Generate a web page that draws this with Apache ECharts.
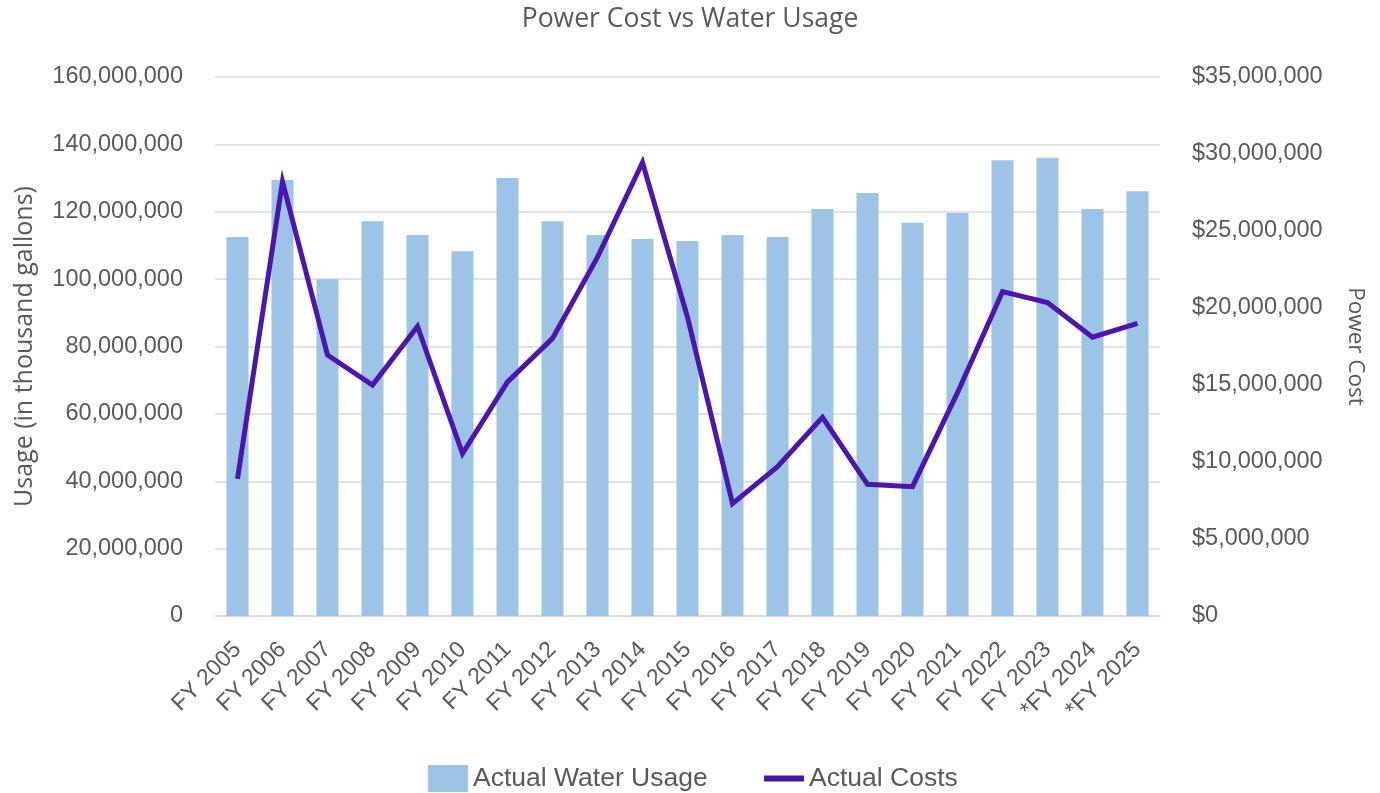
<!DOCTYPE html>
<html>
<head>
<meta charset="utf-8">
<script src="https://cdn.jsdelivr.net/npm/echarts@6/dist/echarts.min.js"></script>
<style>html,body{margin:0;padding:0;background:#fff}#c{width:1380px;height:793px}</style>
</head>
<body>
<div id="c"></div>
<script>
const categories = ["FY 2005","FY 2006","FY 2007","FY 2008","FY 2009","FY 2010","FY 2011","FY 2012","FY 2013","FY 2014","FY 2015","FY 2016","FY 2017","FY 2018","FY 2019","FY 2020","FY 2021","FY 2022","FY 2023","*FY 2024","*FY 2025"];
const waterUsage = [112500000,129400000,100000000,117200000,113100000,108300000,130000000,117200000,113100000,111900000,111300000,113100000,112500000,120800000,125600000,116700000,119600000,135300000,136000000,120800000,126100000];
const powerCost = [8900000,28200000,16950000,15000000,18800000,10550000,15200000,18030000,23300000,29450000,19400000,7300000,9700000,12900000,8550000,8400000,14500000,21060000,20350000,18100000,19000000];

const fmt = v => Math.round(v).toString().replace(/\B(?=(\d{3})+(?!\d))/g, ",");
const txt = '#595959';
const font = 'Liberation Sans';
const font2 = 'Open Sans';

const chart = echarts.init(document.getElementById('c'));
chart.setOption({
  backgroundColor: '#fff',
  animation: false,
  textStyle: { fontFamily: font },
  title: {
    text: 'Power Cost vs Water Usage',
    left: 'center', top: 1,
    textStyle: { fontFamily: font2, fontSize: 26.5, fontWeight: 'normal', color: txt }
  },
  legend: [
    {
      left: 423, top: 760,
      itemWidth: 40, itemHeight: 27, itemGap: 10,
      textStyle: { fontFamily: font, fontSize: 26.5, color: txt, lineHeight: 27 },
      data: [{ name: 'Actual Water Usage', icon: 'rect' }]
    },
    {
      left: 759, top: 760,
      itemWidth: 40, itemHeight: 6, itemGap: 10,
      textStyle: { fontFamily: font, fontSize: 26.5, color: txt, lineHeight: 27 },
      data: [{ name: 'Actual Costs', icon: 'rect' }]
    }
  ],
  grid: { left: 215, right: 220, top: 77, bottom: 177 },
  xAxis: {
    type: 'category',
    data: categories,
    axisLine: { lineStyle: { color: '#d9d9d9', width: 1.5 } },
    axisTick: { show: false },
    axisLabel: { rotate: 45, fontSize: 23, color: txt, fontFamily: font, interval: 0, margin: 30 }
  },
  yAxis: [
    {
      type: 'value', min: 0, max: 160000000, interval: 20000000,
      name: 'Usage (in thousand gallons)', nameLocation: 'middle', nameRotate: 90, nameGap: 178,
      nameTextStyle: { fontFamily: font2, fontSize: 25, color: txt },
      axisLabel: { formatter: fmt, fontSize: 23.5, color: txt, fontFamily: font, margin: 32 },
      axisLine: { show: false }, axisTick: { show: false },
      splitLine: { lineStyle: { color: '#d9d9d9', width: 1.5 } }
    },
    {
      type: 'value', min: 0, max: 35000000, interval: 5000000,
      name: 'Power Cost', nameLocation: 'middle', nameRotate: -90, nameGap: 184,
      nameTextStyle: { fontFamily: font2, fontSize: 22.5, color: txt },
      axisLabel: { formatter: v => '$' + fmt(v), fontSize: 23.5, color: txt, fontFamily: font, margin: 32 },
      axisLine: { show: false }, axisTick: { show: false },
      splitLine: { show: false }
    }
  ],
  series: [
    {
      name: 'Actual Water Usage', type: 'bar', yAxisIndex: 0,
      data: waterUsage, barWidth: '49%',
      itemStyle: { color: '#9dc3e6' }
    },
    {
      name: 'Actual Costs', type: 'line', yAxisIndex: 1,
      data: powerCost, symbol: 'none',
      lineStyle: { color: '#4a16ae', width: 5, join: 'miter' },
      itemStyle: { color: '#4a16ae' }
    }
  ]
});
</script>
</body>
</html>
